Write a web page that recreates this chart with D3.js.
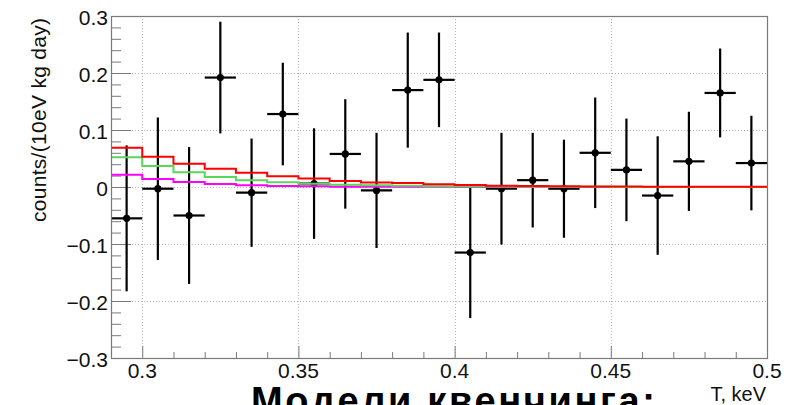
<!DOCTYPE html>
<html>
<head>
<meta charset="utf-8">
<script src="https://cdn.jsdelivr.net/npm/d3@7"></script>
<style>
  body { margin: 0; background: #fff; }
  svg { display: block; }
  text { font-family: "Liberation Sans", Arial, sans-serif; }
</style>
</head>
<body>
<div id="chart"></div>
<script>
// bin centres (keV) and measured rate with its error
var binCenters = [0.295, 0.305, 0.315, 0.325, 0.335, 0.345, 0.355, 0.365, 0.375, 0.385, 0.395,
                  0.405, 0.415, 0.425, 0.435, 0.445, 0.455, 0.465, 0.475, 0.485, 0.495];
var rates  = [-0.055, -0.003, -0.050, 0.192, -0.010, 0.128, 0.006, 0.058, -0.006, 0.170, 0.188,
              -0.115, -0.003, 0.012, -0.003, 0.060, 0.030, -0.015, 0.045, 0.165, 0.042];
var errors = [0.128, 0.125, 0.120, 0.098, 0.095, 0.090, 0.097, 0.096, 0.101, 0.101, 0.083,
              0.115, 0.098, 0.083, 0.086, 0.097, 0.090, 0.104, 0.087, 0.078, 0.083];

// quenching model predictions, one value per bin
var modelRed     = [0.069, 0.053, 0.041, 0.032, 0.025, 0.019, 0.015, 0.0105, 0.008, 0.007, 0.0047,
                    0.0035, 0.0023, 0.0018, 0.0012, 0.0010, 0.0008, 0.0006, 0.0005, 0.0004, 0.0003];
var modelGreen   = [0.052, 0.037, 0.026, 0.0175, 0.0117, 0.0082, 0.0058, 0.0041, 0.0029, 0.0020, 0.0015,
                    0.0010, 0.0007, 0.0005, 0.0004, 0.0003, 0.0002, 0.0002, 0.0001, 0.0001, 0.0001];
var modelMagenta = [0.0216, 0.014, 0.0088, 0.0053, 0.0029, 0.0018, 0.0012, 0.0006, 0.0006, 0.0004, 0.0003,
                    0.0002, 0.0001, 0.0001, 0.0001, 0.0001, 0.0, 0.0, 0.0, 0.0, 0.0];

var binWidth = 0.01;
var xTicks = [0.3, 0.35, 0.4, 0.45, 0.5];
var yTicks = [-0.3, -0.2, -0.1, 0, 0.1, 0.2, 0.3];

// size setup
var width = 807, height = 405;
var frame = {left: 111, right: 767, top: 16, bottom: 358};

var svg = d3.select('#chart').append('svg')
    .attr('width', width)
    .attr('height', height);

var xScale = d3.scaleLinear().domain([0.29, 0.5]).range([frame.left, frame.right]);
var yScale = d3.scaleLinear().domain([-0.3, 0.3]).range([frame.bottom, frame.top]);

var frameColor = '#7a7a7a';

// grid
var grid = svg.append('g').attr('stroke', '#b5b5b5').attr('stroke-width', 1).attr('stroke-dasharray', '1,2');
grid.selectAll('.gx').data(xTicks.slice(0, -1)).enter().append('line')
    .attr('x1', function(d){ return Math.round(xScale(d)) + 0.5; })
    .attr('x2', function(d){ return Math.round(xScale(d)) + 0.5; })
    .attr('y1', frame.top).attr('y2', frame.bottom);
grid.selectAll('.gy').data(yTicks.slice(1, -1)).enter().append('line')
    .attr('y1', function(d){ return Math.round(yScale(d)) + 0.5; })
    .attr('y2', function(d){ return Math.round(yScale(d)) + 0.5; })
    .attr('x1', frame.left).attr('x2', frame.right);

// axes (ticks pointing into the frame)
var xAxis = d3.axisTop(xScale).tickValues(d3.range(0.29, 0.5001, 0.01))
    .tickSize(0).tickFormat('');
var axX = svg.append('g')
    .attr('transform', 'translate(0,' + frame.bottom + ')')
    .call(xAxis);
axX.select('.domain').remove();
axX.selectAll('.tick line')
    .attr('y2', function(d){ return Math.abs(d * 20 - Math.round(d * 20)) < 1e-6 ? -12 : -6; })
    .attr('stroke', frameColor);

var yAxis = d3.axisRight(yScale).tickValues(d3.range(-0.3, 0.3001, 0.02))
    .tickSize(0).tickFormat('');
var axY = svg.append('g')
    .attr('transform', 'translate(' + frame.left + ',0)')
    .call(yAxis);
axY.select('.domain').remove();
axY.selectAll('.tick line')
    .attr('x2', function(d){ return Math.abs(d * 10 - Math.round(d * 10)) < 1e-6 ? 20 : 10; })
    .attr('stroke', frameColor);

// tick labels
svg.append('g').selectAll('text').data(xTicks).enter().append('text')
    .attr('x', function(d){ return xScale(d); })
    .attr('y', 378)
    .attr('text-anchor', 'middle')
    .attr('font-size', 21)
    .attr('fill', '#111')
    .text(function(d){ return d3.format('')(d); });

svg.append('g').selectAll('text').data(yTicks).enter().append('text')
    .attr('x', 108)
    .attr('y', function(d){ return yScale(d) + 9; })
    .attr('text-anchor', 'end')
    .attr('font-size', 21)
    .attr('fill', '#111')
    .text(function(d){ return d === 0 ? '0' : (d < 0 ? '\u2212' : '') + Math.abs(d); });

// axis titles
svg.append('text')
    .attr('transform', 'translate(46,18) rotate(-90)')
    .attr('text-anchor', 'end')
    .attr('font-size', 21)
    .attr('textLength', 204)
    .attr('fill', '#111')
    .text('counts/(10eV kg day)');

svg.append('text')
    .attr('x', 766).attr('y', 401)
    .attr('text-anchor', 'end')
    .attr('font-size', 20)
    .attr('fill', '#111')
    .text('T, keV');

// plot area
var clip = svg.append('clipPath').attr('id', 'frameClip').append('rect')
    .attr('x', frame.left).attr('y', frame.top)
    .attr('width', frame.right - frame.left).attr('height', frame.bottom - frame.top);
var plot = svg.append('g').attr('clip-path', 'url(#frameClip)');

// data points with error bars
var points = binCenters.map(function(c, i){ return {x: c, y: rates[i], e: errors[i]}; });
var pts = plot.append('g').attr('stroke', '#000').attr('stroke-width', 2.2);
pts.selectAll('.ex').data(points).enter().append('line')
    .attr('x1', function(d){ return xScale(d.x - binWidth / 2); })
    .attr('x2', function(d){ return xScale(d.x + binWidth / 2); })
    .attr('y1', function(d){ return yScale(d.y); })
    .attr('y2', function(d){ return yScale(d.y); });
pts.selectAll('.ey').data(points).enter().append('line')
    .attr('x1', function(d){ return xScale(d.x); })
    .attr('x2', function(d){ return xScale(d.x); })
    .attr('y1', function(d){ return yScale(d.y - d.e); })
    .attr('y2', function(d){ return yScale(d.y + d.e); });
plot.append('g').selectAll('circle').data(points).enter().append('circle')
    .attr('cx', function(d){ return xScale(d.x); })
    .attr('cy', function(d){ return yScale(d.y); })
    .attr('r', 3.6)
    .attr('fill', '#000');

// model histograms
var step = d3.line()
    .x(function(d){ return xScale(d.x); })
    .y(function(d){ return yScale(d.y); })
    .curve(d3.curveStepAfter);

function histPoints(vals){
    var p = vals.map(function(v, i){ return {x: binCenters[i] - binWidth / 2, y: v}; });
    p.push({x: binCenters[binCenters.length - 1] + binWidth / 2, y: vals[vals.length - 1]});
    return p;
}

[[modelMagenta, '#ff00ff'], [modelGreen, '#5ad75a'], [modelRed, '#ff0000']].forEach(function(m){
    plot.append('path')
        .attr('d', step(histPoints(m[0])))
        .attr('fill', 'none')
        .attr('stroke', m[1])
        .attr('stroke-width', 2);
});

// frame
svg.append('rect')
    .attr('x', frame.left + 0.5).attr('y', frame.top + 0.5)
    .attr('width', frame.right - frame.left).attr('height', frame.bottom - frame.top)
    .attr('fill', 'none')
    .attr('stroke', frameColor)
    .attr('stroke-width', 1.2);

// slide caption cut off at the bottom edge, as in the original
svg.append('text')
    .attr('x', 251).attr('y', 414)
    .attr('font-size', 38)
    .attr('font-weight', 'bold')
    .attr('textLength', 404)
    .attr('fill', '#000')
    .text('Модели квенчинга:');
</script>
</body>
</html>
